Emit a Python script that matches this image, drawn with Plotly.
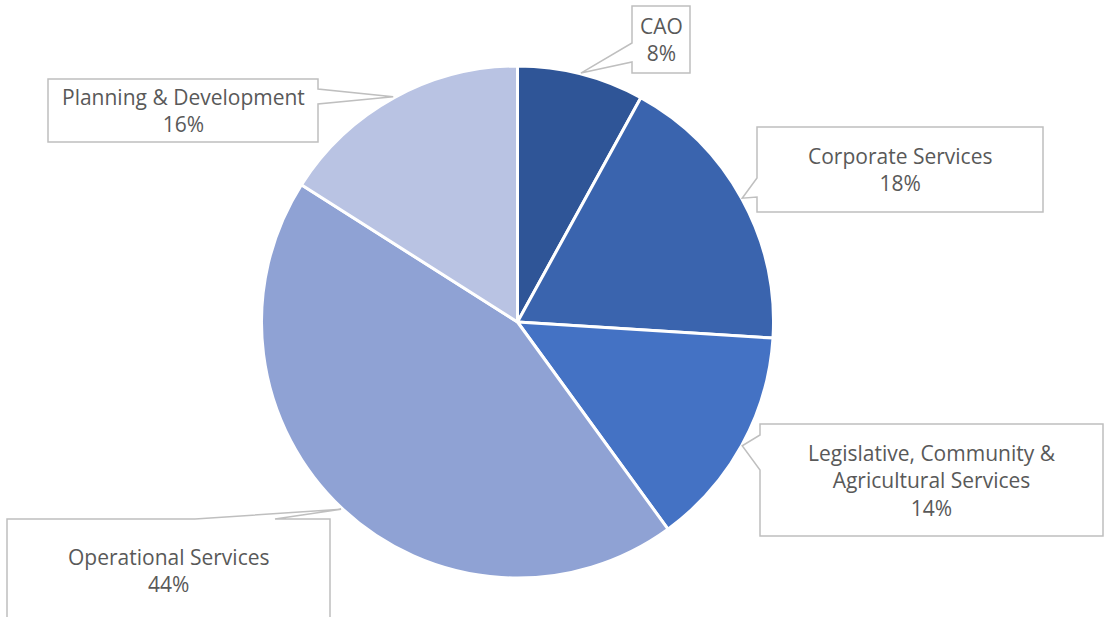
import math
import plotly.graph_objects as go

categories = ["CAO", "Corporate Services", "Legislative, Community &<br>Agricultural Services",
              "Operational Services", "Planning & Development"]
values = [8, 18, 14, 44, 16]
colors = ["#2F5597", "#3A64AE", "#4472C4", "#8FA2D4", "#B9C3E3"]

W, H = 1104, 617
CX, CY, R = 517, 322, 256

# callout boxes (x0, y0, x1, y1), side of pointer, pointer base coords along side
callouts = [
    ((632, 6, 690, 73), "left", (62, 43)),
    ((757, 127, 1043, 212), "left", (197, 178)),
    ((760, 424, 1103, 536), "left", (470, 435)),
    ((7, 519, 330, 640), "top", (195, 275)),
    ((48, 79, 318, 142), "right", (89, 104)),
]

fig = go.Figure()
fig.add_trace(go.Pie(
    labels=[c.replace("<br>", " ") for c in categories], values=values, sort=False,
    direction="clockwise", rotation=0,
    marker=dict(colors=colors, line=dict(color="white", width=3)),
    textinfo="none", hoverinfo="label+percent", showlegend=False,
    domain=dict(x=[(CX - R) / W, (CX + R + 1) / W], y=[(H - CY - R) / H, (H - CY + R) / H]),
))

total = sum(values)
cum = 0
shapes = []
annotations = []
for cat, v, (box, side, base) in zip(categories, values, callouts):
    mid = (cum + v / 2) / total * 2 * math.pi
    cum += v
    tx = CX + (R + 1) * math.sin(mid)
    ty = CY - (R + 1) * math.cos(mid)
    x0, y0, x1, y1 = box
    if side == "left":
        pts = [(x0, y0), (x1, y0), (x1, y1), (x0, y1), (x0, base[0]), (tx, ty), (x0, base[1])]
    elif side == "right":
        pts = [(x0, y0), (x1, y0), (x1, base[0]), (tx, ty), (x1, base[1]), (x1, y1), (x0, y1)]
    else:  # top
        pts = [(x0, y0), (base[0], y0), (tx, ty), (base[1], y0), (x1, y0), (x1, y1), (x0, y1)]
    path = "M " + " L ".join(f"{px:.1f},{py:.1f}" for px, py in pts) + " Z"
    shapes.append(dict(type="path", path=path, xref="x", yref="y",
                       line=dict(color="#BFBFBF", width=1.5), fillcolor="white", layer="above"))
    yb = min(y1, H)
    cy_text = (y0 + yb) / 2 if side != "top" else 570
    annotations.append(dict(x=(x0 + x1) / 2, y=cy_text, xref="x", yref="y",
                            text=f"{cat}<br>{round(v / total * 100)}%", showarrow=False,
                            align="center", xanchor="center", yanchor="middle",
                            font=dict(family="Open Sans", size=21, color="#595959")))

fig.update_layout(
    width=W, height=H, margin=dict(l=0, r=0, t=0, b=0),
    paper_bgcolor="white", plot_bgcolor="white",
    xaxis=dict(range=[0, W], visible=False, fixedrange=True),
    yaxis=dict(range=[H, 0], visible=False, fixedrange=True),
    shapes=shapes, annotations=annotations,
)
fig.write_html("out.html")
